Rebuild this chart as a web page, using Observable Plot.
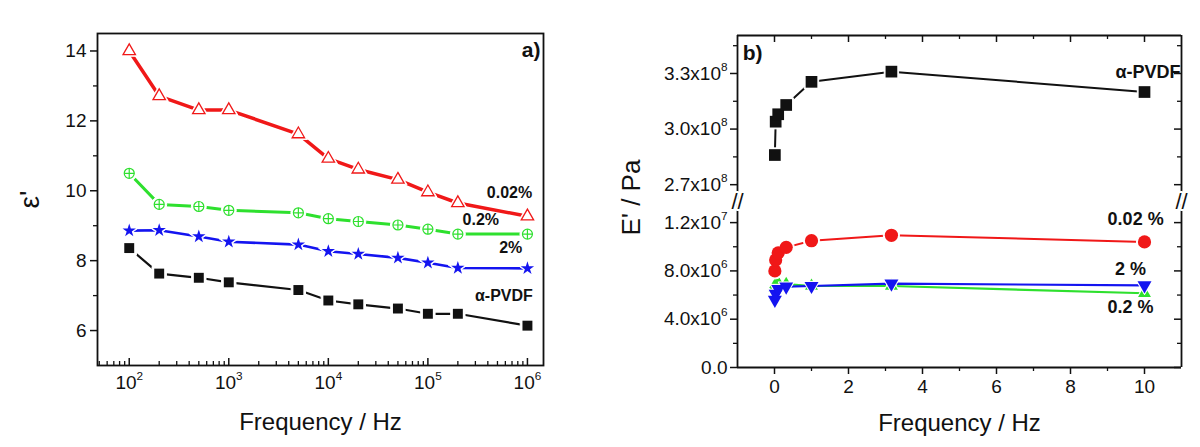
<!DOCTYPE html>
<html><head><meta charset="utf-8">
<script src="https://cdn.jsdelivr.net/npm/d3@7"></script>
<script src="https://cdn.jsdelivr.net/npm/@observablehq/plot@0.6"></script>
<style>
body{margin:0;background:#fff;}
#wrap{display:flex;width:1200px;height:447px;background:#fff;}
#wrap svg{display:block;overflow:visible}
#panelA{position:relative;width:600px;height:447px;}
#panelB{position:relative;width:600px;height:447px;}
#panelB svg{position:absolute;left:0;}
</style></head><body><div id="wrap"><div id="panelA"></div><div id="panelB"></div></div>
<script>
// ---------- Panel a data: dielectric constant vs frequency ----------
const freqA = [100, 200, 500, 1000, 5000, 1e4, 2e4, 5e4, 1e5, 2e5, 1e6];
const epsPVDF = [8.36, 7.63, 7.51, 7.38, 7.16, 6.86, 6.75, 6.63, 6.48, 6.48, 6.14];
const eps002  = [14.0, 12.71, 12.31, 12.31, 11.62, 10.92, 10.61, 10.32, 9.96, 9.65, 9.27];
const eps02   = [10.5, 9.61, 9.55, 9.44, 9.37, 9.2, 9.12, 9.02, 8.9, 8.76, 8.76];
const eps2    = [8.86, 8.87, 8.69, 8.54, 8.46, 8.27, 8.19, 8.08, 7.94, 7.79, 7.78];
const aXTicks = [1e2, 1e3, 1e4, 1e5, 1e6];
const aXTickLabels = ["10²", "10³", "10⁴", "10⁵", "10⁶"];
const aYTicks = [6, 8, 10, 12, 14];
const aYMinor = [7, 9, 11, 13];

// ---------- Panel b data: storage modulus vs frequency ----------
const freqB = [0.01, 0.0316, 0.1, 0.316, 1, 3.16, 10];
const EPVDF = [2.86e8, 3.04e8, 3.08e8, 3.13e8, 3.255e8, 3.31e8, 3.2e8];
const E002  = [8.0e6, 8.9e6, 9.5e6, 9.95e6, 1.05e7, 1.095e7, 1.04e7];
const E02   = [6.6e6, 6.9e6, 7.0e6, 6.9e6, 6.75e6, 6.75e6, 6.15e6];
const E2    = [5.6e6, 6.1e6, 6.5e6, 6.7e6, 6.75e6, 6.95e6, 6.8e6];
const bXTicks = [0, 2, 4, 6, 8, 10];
const bXMinor = [1, 3, 5, 7, 9];
const bYTicksHigh = [2.7e8, 3.0e8, 3.3e8];
const bYTickLabelsHigh = ["2.7x10⁸", "3.0x10⁸", "3.3x10⁸"];
const bYMinorHigh = [2.85e8, 3.15e8, 3.45e8];
const bYTicksLow = [0, 4e6, 8e6, 1.2e7];
const bYTickLabelsLow = ["0.0", "4.0x10⁶", "8.0x10⁶", "1.2x10⁷"];
const bYMinorLow = [2e6, 6e6, 1e7];

const FONT = "'Liberation Sans', Arial, Helvetica, sans-serif";
const RED = "#f01818", GREEN = "#2ee02e", BLUE = "#1414f0", BLACK = "#111";
const rows = (xs, ys) => xs.map((x, i) => ({x, y: ys[i]}));
const triDown = { draw(ctx, size) { const y = Math.sqrt(size / (Math.sqrt(3) * 3)); ctx.moveTo(0, 2 * y); ctx.lineTo(-Math.sqrt(3) * y, -y); ctx.lineTo(Math.sqrt(3) * y, -y); ctx.closePath(); } };
const STYLE = {fontFamily: FONT, color: BLACK, background: "transparent", overflow: "visible"};

function series(data, o) {
  const m = [Plot.line(data, {x: "x", y: "y", stroke: o.color, strokeWidth: o.sw})];
  m.push(Plot.dot(data, {x: "x", y: "y", symbol: o.symbol, r: o.r + o.halo, fill: "white", stroke: "white", strokeWidth: 1}));
  m.push(Plot.dot(data, {x: "x", y: "y", symbol: o.symbol, r: o.r, fill: o.fill, stroke: o.color, strokeWidth: o.msw}));
  if (o.extra) m.push(Plot.dot(data, {x: "x", y: "y", symbol: o.extra, r: o.extraR, stroke: o.color, strokeWidth: o.msw}));
  return m;
}

// render unicode superscript digits as raised tspans
const supMap = {"⁰":"0","¹":"1","²":"2","³":"3","⁴":"4","⁵":"5","⁶":"6","⁷":"7","⁸":"8","⁹":"9"};
function fixSup(svg) {
  const ns = "http://www.w3.org/2000/svg";
  svg.querySelectorAll("text").forEach(t => {
    if (t.children.length) return;
    const m = t.textContent.match(/^(.*?)([⁰¹²³⁴⁵⁶⁷⁸⁹]+)$/);
    if (!m) return;
    t.textContent = "";
    const a = document.createElementNS(ns, "tspan"); a.textContent = m[1];
    const b = document.createElementNS(ns, "tspan");
    b.textContent = [...m[2]].map(c => supMap[c]).join("");
    b.setAttribute("dy", "-0.75em"); b.setAttribute("font-size", "0.62em");
    t.append(a, b);
  });
  return svg;
}

// ---------- Panel a ----------
const A = {width: 600, height: 447, mL: 97, mR: 57, mT: 33, mB: 82};
const aFH = A.height - A.mT - A.mB;
const aMinorX = [];
for (let e = 1; e <= 6; e++) for (let k = 2; k <= 9; k++) { const v = k * 10 ** e; if (v >= 48 && v <= 1.45e6) aMinorX.push(v); }
const lblA = {fontSize: 16, fontWeight: "bold", fill: BLACK};

const plotA = Plot.plot({
  width: A.width, height: A.height, marginLeft: A.mL, marginRight: A.mR, marginTop: A.mT, marginBottom: A.mB,
  style: STYLE,
  x: {type: "log", domain: [48, 1.45e6], label: null},
  y: {domain: [5, 14.5], label: null},
  marks: [
    Plot.frame({stroke: BLACK, strokeWidth: 1.8}),
    Plot.tickX(aXTicks, {x: d => d, insetTop: aFH - 7, stroke: BLACK, strokeWidth: 1.5}),
    Plot.tickX(aMinorX, {x: d => d, insetTop: aFH - 4, stroke: BLACK, strokeWidth: 1.3}),
    Plot.axisX(aXTicks, {tickSize: 0, tickPadding: 10, fontSize: 19, label: null, tickFormat: d => aXTickLabels[aXTicks.indexOf(d)]}),
    Plot.axisY(aYTicks, {tickSize: 7, tickPadding: 4, fontSize: 19, label: null, strokeWidth: 1.5, tickFormat: d => String(d)}),
    Plot.axisY(aYMinor, {tickSize: 4, label: null, strokeWidth: 1.3, tickFormat: () => ""}),
    ...series(rows(freqA, epsPVDF), {color: BLACK, sw: 2.2, symbol: "square", r: 5.6, halo: 2.5, fill: BLACK, msw: 0}),
    ...series(rows(freqA, eps2), {color: BLUE, sw: 2.6, symbol: "star", r: 4.2, halo: 2, fill: BLUE, msw: 0}),
    ...series(rows(freqA, eps02), {color: GREEN, sw: 3, symbol: "circle", r: 5, halo: 2.5, fill: "white", msw: 1.2, extra: "plus", extraR: 3.3}),
    ...series(rows(freqA, eps002), {color: RED, sw: 3.5, symbol: "triangle", r: 4.6, halo: 2.2, fill: "white", msw: 1.3}),
    Plot.text(["0.02%"], {x: 6.6e5, y: 9.95, ...lblA}),
    Plot.text(["0.2%"], {x: 3.4e5, y: 9.18, ...lblA}),
    Plot.text(["2%"], {x: 6.8e5, y: 8.38, ...lblA}),
    Plot.text(["α-PVDF"], {x: 5.8e5, y: 6.98, ...lblA}),
    Plot.text(["a)"], {x: 1.35e6, y: 14.01, textAnchor: "end", fontSize: 21, fontWeight: "bold", fill: BLACK}),
    Plot.text(["ε'"], {frameAnchor: "left", dx: -67, rotate: -90, textAnchor: "middle", lineAnchor: "middle", fontSize: 28, fill: BLACK}),
    Plot.text(["Frequency / Hz"], {frameAnchor: "bottom", dy: 57, textAnchor: "middle", lineAnchor: "middle", fontSize: 24, fill: BLACK})
  ]
});

// ---------- Panel b: broken y axis as two stacked plots sharing x ----------
const BT = {width: 600, height: 199, mL: 137, mR: 19, mT: 35, mB: 0};
const BB = {width: 600, height: 248, mL: 137, mR: 19, mT: 5, mB: 80};
const btFH = BT.height - BT.mT - BT.mB;
const bFW = BT.width - BT.mL - BT.mR;
const xDomB = [-1, 11];
const yDomHigh = [2.62e8, 3.505e8];
const yDomLow = [0, 1.35e7];
const lblB = {fontSize: 18, fontWeight: "bold", fill: BLACK};

const plotBTop = Plot.plot({
  width: BT.width, height: BT.height, marginLeft: BT.mL, marginRight: BT.mR, marginTop: BT.mT, marginBottom: BT.mB,
  style: STYLE,
  x: {domain: xDomB, label: null, axis: null},
  y: {domain: yDomHigh, label: null},
  marks: [
    Plot.ruleY([yDomHigh[1]], {stroke: BLACK, strokeWidth: 1.8}),
    Plot.ruleX(xDomB, {stroke: BLACK, strokeWidth: 1.8}),
    Plot.tickX(bXTicks, {x: d => d, insetBottom: btFH - 7, stroke: BLACK, strokeWidth: 1.5}),
    Plot.tickX(bXMinor, {x: d => d, insetBottom: btFH - 4, stroke: BLACK, strokeWidth: 1.3}),
    Plot.axisY(bYTicksHigh, {tickSize: 7, tickPadding: 3, fontSize: 19, label: null, strokeWidth: 1.5, tickFormat: d => bYTickLabelsHigh[bYTicksHigh.indexOf(d)]}),
    Plot.axisY(bYMinorHigh, {tickSize: 4, label: null, strokeWidth: 1.3, tickFormat: () => ""}),
    Plot.tickY(bYTicksHigh, {y: d => d, insetLeft: bFW - 7, stroke: BLACK, strokeWidth: 1.5}),
    Plot.tickY(bYMinorHigh, {y: d => d, insetLeft: bFW - 4, stroke: BLACK, strokeWidth: 1.3}),
    ...series(rows(freqB, EPVDF), {color: BLACK, sw: 2, symbol: "square", r: 6.6, halo: 1.5, fill: BLACK, msw: 0}),
    Plot.text(["α-PVDF"], {x: 11, y: 3.305e8, dx: -1, textAnchor: "end", ...lblB}),
    Plot.text(["b)"], {x: -0.86, y: 3.408e8, textAnchor: "start", fontSize: 21, fontWeight: "bold", fill: BLACK})
  ]
});

const plotBBottom = Plot.plot({
  width: BB.width, height: BB.height, marginLeft: BB.mL, marginRight: BB.mR, marginTop: BB.mT, marginBottom: BB.mB,
  style: STYLE,
  x: {domain: xDomB, label: null},
  y: {domain: yDomLow, label: null},
  marks: [
    Plot.ruleY([yDomLow[0]], {stroke: BLACK, strokeWidth: 1.8}),
    Plot.ruleX(xDomB, {stroke: BLACK, strokeWidth: 1.8}),
    Plot.axisX(bXTicks, {tickSize: 7, tickPadding: 5, fontSize: 19, label: null, strokeWidth: 1.5, tickFormat: d => String(d)}),
    Plot.axisX(bXMinor, {tickSize: 4, label: null, strokeWidth: 1.3, tickFormat: () => ""}),
    Plot.axisY(bYTicksLow, {tickSize: 7, tickPadding: 3, fontSize: 19, label: null, strokeWidth: 1.5, tickFormat: d => bYTickLabelsLow[bYTicksLow.indexOf(d)]}),
    Plot.axisY(bYMinorLow, {tickSize: 4, label: null, strokeWidth: 1.3, tickFormat: () => ""}),
    Plot.tickY(bYTicksLow, {y: d => d, insetLeft: bFW - 7, stroke: BLACK, strokeWidth: 1.5}),
    Plot.tickY(bYMinorLow, {y: d => d, insetLeft: bFW - 4, stroke: BLACK, strokeWidth: 1.3}),
    ...series(rows(freqB, E02), {color: GREEN, sw: 2.2, symbol: "triangle", r: 4.8, halo: 0.8, fill: GREEN, msw: 0}),
    ...series(rows(freqB, E2), {color: BLUE, sw: 2.2, symbol: triDown, r: 5.2, halo: 0.8, fill: BLUE, msw: 0}),
    ...series(rows(freqB, E002), {color: RED, sw: 2, symbol: "circle", r: 6.6, halo: 1.5, fill: RED, msw: 0}),
    Plot.text(["0.02 %"], {x: 9.76, y: 1.23e7, ...lblB}),
    Plot.text(["2 %"], {x: 9.62, y: 8.1e6, ...lblB}),
    Plot.text(["0.2 %"], {x: 9.62, y: 4.96e6, ...lblB}),
    Plot.text(["//"], {frameAnchor: "top-left", dy: -3, textAnchor: "middle", lineAnchor: "middle", fontSize: 22, fill: BLACK, stroke: "white", strokeWidth: 4, paintOrder: "stroke"}),
    Plot.text(["//"], {frameAnchor: "top-right", dy: -3, textAnchor: "middle", lineAnchor: "middle", fontSize: 22, fill: BLACK, stroke: "white", strokeWidth: 4, paintOrder: "stroke"}),
    Plot.text(["E' / Pa"], {frameAnchor: "top-left", dx: -106, dy: -7, rotate: -90, textAnchor: "middle", lineAnchor: "middle", fontSize: 26, fill: BLACK}),
    Plot.text(["Frequency / Hz"], {frameAnchor: "bottom", dy: 56, textAnchor: "middle", lineAnchor: "middle", fontSize: 24, fill: BLACK})
  ]
});

plotBTop.style.top = "0px";
plotBBottom.style.top = BT.height + "px";
document.getElementById("panelA").append(fixSup(plotA));
document.getElementById("panelB").append(fixSup(plotBTop), fixSup(plotBBottom));
</script></body></html>
